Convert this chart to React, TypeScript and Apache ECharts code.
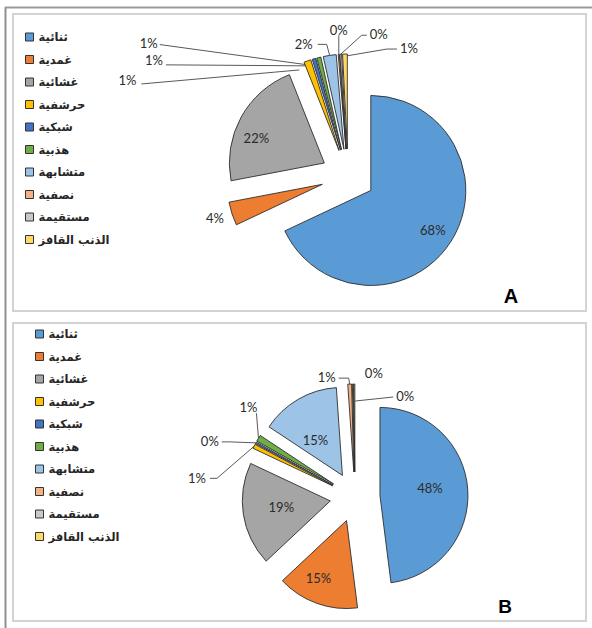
import React, { useEffect, useRef } from 'react';
import * as echarts from 'echarts';

// ---------- data ----------
const categories = ['ثنائية', 'غمدية', 'غشائية', 'حرشفية', 'شبكية', 'هذبية', 'متشابهة', 'نصفية', 'مستقيمة', 'الذنب القافز'];
const valuesA = [68, 4, 22, 1.2, 0.6, 0.7, 2.2, 0.2, 0.3, 0.8];
const valuesB = [48, 15, 19, 0.8, 0.3, 1.2, 14.6, 0.7, 0.2, 0.2];
const panelLetters = ['A', 'B'];

// ---------- styling / layout config ----------
const colors = ['#5B9BD5', '#ED7D31', '#A5A5A5', '#FFC000', '#4472C4', '#70AD47', '#9DC3E6', '#F4B183', '#C9C9C9', '#FFD966'];

type Spec = { kind: 'in'; o: [number, number] } | { kind: 'out'; o: [number, number]; align: string; line?: [number, number][] };

const labelsA: Spec[] = [
  { kind: 'in', o: [62, 40] },
  { kind: 'out', o: [-8, 4], align: 'right' },
  { kind: 'in', o: [-68, -25] },
  { kind: 'out', o: [-171, 19], align: 'right', line: [[-8, 9], [-166, 23]] },
  { kind: 'out', o: [-151, 1], align: 'right', line: [[-8, 7], [-148, 6]] },
  { kind: 'out', o: [-161, -15], align: 'right', line: [[-6, 8], [-159, -13]] },
  { kind: 'out', o: [-17, -11], align: 'right', line: [[0, 0], [-3, -11], [-12, -11]] },
  { kind: 'out', o: [0, -24], align: 'center', line: [[0, 0], [0, -19]] },
  { kind: 'out', o: [29, -20], align: 'left', line: [[0, 0], [21, -19], [26, -19]] },
  { kind: 'out', o: [55, -6], align: 'left', line: [[1, 2], [42, -5], [52, -5]] },
];

const labelsB: Spec[] = [
  { kind: 'in', o: [50, -7] },
  { kind: 'in', o: [-28, 57] },
  { kind: 'in', o: [-49, 6] },
  { kind: 'out', o: [-48, 32], align: 'right', line: [[0, 0], [-37, 32], [-44, 32]] },
  { kind: 'out', o: [-37, -2], align: 'right', line: [[0, 0], [-26, -1], [-34, -1]] },
  { kind: 'out', o: [-10, -31], align: 'center', line: [[0, 0], [-2, -25]] },
  { kind: 'in', o: [-27, -35] },
  { kind: 'out', o: [-14, -7], align: 'right', line: [[0, 0], [-1, -6], [-11, -6]] },
  { kind: 'out', o: [12, -11], align: 'left' },
  { kind: 'out', o: [42, 12], align: 'left', line: [[1, 17], [39, 13]] },
];

const labelFont = { fontFamily: 'Lato', fontSize: 13, color: '#2b2b2b' };

function buildPie(values: number[], center: [number, number], R: number, explode: number, specs: Spec[]) {
  const total = values.reduce((a, b) => a + b, 0);
  let acc = 0;
  const out: any[] = [];
  values.forEach((v, i) => {
    const a0 = (acc / total) * Math.PI * 2;
    acc += v;
    const a1 = (acc / total) * Math.PI * 2;
    const mid = (a0 + a1) / 2;
    const dx = Math.sin(mid);
    const dy = -Math.cos(mid);
    const cx = center[0] + explode * dx;
    const cy = center[1] + explode * dy;
    const p0 = [cx + R * dx, cy + R * dy];
    const spec = specs[i];
    out.push({
      type: 'pie',
      center: [cx, cy],
      radius: [0, R],
      startAngle: 90,
      clockwise: true,
      avoidLabelOverlap: false,
      silent: true,
      z: 2,
      data: values.map((val, j) =>
        j === i
          ? {
              name: categories[j],
              value: val,
              itemStyle: { color: colors[j], borderColor: '#2e2e2e', borderWidth: 0.9 },
              label: {
                show: true,
                position: spec.kind === 'in' ? 'inside' : 'outside',
                formatter: (p: any) => Math.round(p.value) + '%',
                ...labelFont,
              },
              labelLine: { show: spec.kind === 'out' && !!spec.line, lineStyle: { color: '#595959', width: 1 } },
            }
          : {
              name: categories[j],
              value: val,
              itemStyle: { color: 'rgba(0,0,0,0)', borderWidth: 0 },
              label: { show: false },
              labelLine: { show: false },
            }
      ),
      labelLayout: (params: any) => {
        if (params.dataIndex !== i) return {};
        if (spec.kind === 'in') {
          return { x: cx + spec.o[0], y: cy + spec.o[1], align: 'center', verticalAlign: 'middle' };
        }
        const res: any = { x: p0[0] + spec.o[0], y: p0[1] + spec.o[1], align: spec.align, verticalAlign: 'middle' };
        if (spec.line) res.labelLinePoints = spec.line.map(([x, y]) => [p0[0] + x, p0[1] + y]);
        return res;
      },
    });
  });
  return out;
}

function legendAt(left: number, top: number) {
  return {
    orient: 'vertical',
    left,
    top,
    itemWidth: 8,
    itemHeight: 8,
    itemGap: 8.5,
    icon: 'rect',
    selectedMode: false,
    data: categories.map((n, i) => ({ name: n, itemStyle: { color: colors[i], borderColor: '#333', borderWidth: 1 } })),
    textStyle: { fontFamily: 'DejaVu Sans', fontSize: 11.5, fontWeight: 'bold', color: '#262626', lineHeight: 14 },
  };
}

export default function App() {
  const ref = useRef<HTMLDivElement>(null);
  useEffect(() => {
    if (!ref.current) return;
    const chart = echarts.init(ref.current, null, { renderer: 'svg' });
    chart.setOption({
      animation: false,
      backgroundColor: '#ffffff',
      legend: [legendAt(20, 25), legendAt(30, 322)],
      graphic: [
        { type: 'line', shape: { x1: 5.5, y1: 7, x2: 5.5, y2: 628 }, style: { stroke: '#8f8f8f', lineWidth: 2 } },
        { type: 'line', shape: { x1: 5, y1: 7.5, x2: 592, y2: 7.5 }, style: { stroke: '#9b9b9b', lineWidth: 2 } },
        { type: 'rect', shape: { x: 13, y: 14, width: 573, height: 297 }, style: { fill: 'none', stroke: '#d3d3d3', lineWidth: 2 } },
        { type: 'rect', shape: { x: 13, y: 323, width: 573, height: 298 }, style: { fill: 'none', stroke: '#d3d3d3', lineWidth: 2 } },
        {
          type: 'text', x: 511, y: 296,
          style: { text: panelLetters[0], fontFamily: 'Liberation Sans', fontWeight: 'bold', fontSize: 20, fill: '#000', align: 'center', verticalAlign: 'middle', textAlign: 'center', textVerticalAlign: 'middle' },
        },
        {
          type: 'text', x: 505, y: 606,
          style: { text: panelLetters[1], fontFamily: 'Liberation Sans', fontWeight: 'bold', fontSize: 19, fill: '#000', align: 'center', verticalAlign: 'middle', textAlign: 'center', textVerticalAlign: 'middle' },
        },
      ],
      series: [
        ...buildPie(valuesA, [348, 176], 95, 27, labelsA),
        ...buildPie(valuesB, [355, 497], 88, 25, labelsB),
      ],
    });
    return () => chart.dispose();
  }, []);
  return <div ref={ref} style={{ position: 'absolute', left: 0, top: 0, width: 592, height: 628 }} />;
}
